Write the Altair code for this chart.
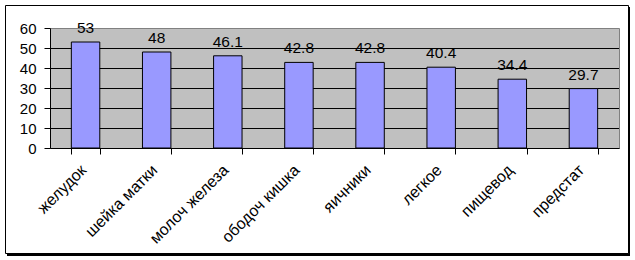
import altair as alt
import pandas as pd

categories = ["желудок", "шейка матки", "молоч железа", "ободоч кишка",
              "яичники", "легкое", "пищевод", "предстат"]
values = [53, 48, 46.1, 42.8, 42.8, 40.4, 34.4, 29.7]
value_labels = ["53", "48", "46.1", "42.8", "42.8", "40.4", "34.4", "29.7"]
y_ticks = [0, 10, 20, 30, 40, 50, 60]
grid_values = [10, 20, 30, 40, 50]

df = pd.DataFrame({"cat": categories, "val": values, "lbl": value_labels})
grid_df = pd.DataFrame({"g": grid_values})

W, H = 569, 120
FONT = "Liberation Sans"
FS = 15

y_scale = alt.Scale(domain=[0, 60], nice=False, zero=True)
x_scale = alt.Scale(paddingInner=0.6, paddingOuter=0.3)

y_axis = alt.Axis(values=y_ticks, title=None, zindex=1, grid=False,
                  domainColor="black", tickColor="black", tickSize=6,
                  labelFont=FONT, labelFontSize=FS, labelColor="black",
                  labelPadding=8)
x_axis = alt.Axis(title=None, zindex=1, grid=False, labels=False,
                  tickBand="extent", domainColor="black", tickColor="black",
                  tickSize=6)

one = alt.Data(values=[{"a": 1}])

shadow = alt.Chart(one).mark_rect(color="black").encode(
    x=alt.value(-43), x2=alt.value(580), y=alt.value(-21), y2=alt.value(228)
)
frame = alt.Chart(one).mark_rect(fill="white", stroke="black", strokeWidth=1).encode(
    x=alt.value(-44.5), x2=alt.value(578.5), y=alt.value(-22.5), y2=alt.value(225.5)
)
plotbg = alt.Chart(one).mark_rect(fill="#C0C0C0", stroke="#808080", strokeWidth=1).encode(
    x=alt.value(0.5), x2=alt.value(W + 0.5), y=alt.value(0.5), y2=alt.value(H + 0.5)
)

grid = alt.Chart(grid_df).mark_rule(color="black", strokeWidth=1, yOffset=0.5).encode(
    y=alt.Y("g:Q", scale=y_scale, axis=y_axis)
)

bars = alt.Chart(df).mark_bar(fill="#9999FF", stroke="black", strokeWidth=1).encode(
    x=alt.X("cat:N", sort=categories, scale=x_scale, axis=x_axis),
    y=alt.Y("val:Q", scale=y_scale, axis=y_axis),
)

text = alt.Chart(df).mark_text(
    baseline="alphabetic", dy=-9, fontSize=15.5, font=FONT, color="black"
).encode(
    x=alt.X("cat:N", sort=categories, scale=x_scale, axis=x_axis),
    y=alt.Y("val:Q", scale=y_scale, axis=y_axis),
    text="lbl:N",
)

xlabels = alt.Chart(df).mark_text(
    angle=315, align="right", baseline="top", fontSize=16, font=FONT,
    color="black", xOffset=-7.5
).encode(
    x=alt.X("cat:N", sort=categories, scale=x_scale, axis=x_axis),
    y=alt.value(H + 14),
    text="cat:N",
)

chart = alt.layer(shadow, frame, plotbg, grid, bars, text, xlabels).properties(
    width=W,
    height=H,
    padding={"left": 50, "top": 28, "right": 16, "bottom": 112},
    autosize=alt.AutoSizeParams(type="none"),
    background="white",
).configure_view(
    strokeWidth=0
)

chart.save("out.html", embed_options={"renderer": "svg", "actions": False})
